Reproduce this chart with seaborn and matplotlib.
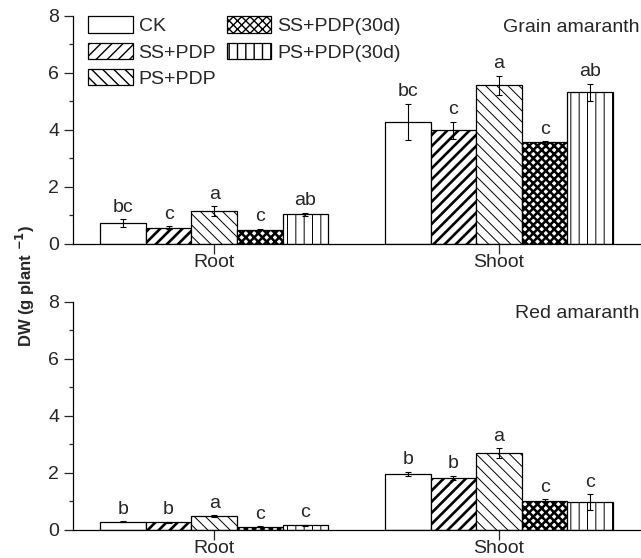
import numpy as np
import pandas as pd
import seaborn as sns
import matplotlib.pyplot as plt
from matplotlib.patches import Patch
from matplotlib.ticker import MultipleLocator

organs = ['Root', 'Shoot']
treatments = ['CK', 'SS+PDP', 'PS+PDP', 'SS+PDP(30d)', 'PS+PDP(30d)']

# Grain amaranth
grain_root = [0.73, 0.56, 1.15, 0.50, 1.03]
grain_root_err = [0.13, 0.05, 0.18, 0.03, 0.06]
grain_root_let = ['bc', 'c', 'a', 'c', 'ab']
grain_shoot = [4.29, 3.98, 5.57, 3.56, 5.32]
grain_shoot_err = [0.63, 0.30, 0.33, 0.05, 0.30]
grain_shoot_let = ['bc', 'c', 'a', 'c', 'ab']

# Red amaranth
red_root = [0.29, 0.27, 0.49, 0.12, 0.16]
red_root_err = [0.02, 0.02, 0.02, 0.01, 0.02]
red_root_let = ['b', 'b', 'a', 'c', 'c']
red_shoot = [1.97, 1.84, 2.70, 1.03, 0.98]
red_shoot_err = [0.08, 0.07, 0.17, 0.06, 0.27]
red_shoot_let = ['b', 'b', 'a', 'c', 'c']

# 填充样式: (hatch, hatch线宽)
styles = {
    'CK': ('', 0.8),
    'SS+PDP': ('///', 1.9),
    'PS+PDP': ('\\\\\\', 0.7),
    'SS+PDP(30d)': ('xxxx', 1.8),
    'PS+PDP(30d)': ('||', 0.7),
}

FS = 14

sns.set_style('ticks')
plt.rcParams['font.family'] = ['Liberation Sans', 'DejaVu Sans']
plt.rcParams['hatch.color'] = 'black'


def style_patch(p, t):
    h, lw = styles[t]
    p.set_hatch(h)
    if hasattr(p, 'set_hatch_linewidth'):
        p.set_hatch_linewidth(lw)


def panel(ax, root, root_err, root_let, shoot, shoot_err, shoot_let, title):
    df = pd.DataFrame({'organ': np.repeat(organs, len(treatments)),
                       'treat': treatments * 2,
                       'dw': root + shoot})
    sns.barplot(data=df, x='organ', y='dw', hue='treat', hue_order=treatments,
                palette={t: 'white' for t in treatments}, edgecolor='black',
                linewidth=0.9, width=0.8, saturation=1, ax=ax, legend=False)
    vals = [root, shoot]
    errs = [root_err, shoot_err]
    lets = [root_let, shoot_let]
    bar_conts = list(ax.containers)
    for i, cont in enumerate(bar_conts):
        t = treatments[i]
        for j, p in enumerate(cont.patches):
            style_patch(p, t)
            xc = p.get_x() + p.get_width() / 2
            h = vals[j][i]
            e = errs[j][i]
            ax.errorbar(xc, h, yerr=e, fmt='none', ecolor='black',
                        elinewidth=0.8, capsize=2.5, capthick=0.8, zorder=5)
            ax.text(xc, h + e + 0.12, lets[j][i], ha='center', va='bottom',
                    fontsize=FS)
    ax.set_ylim(0, 8)
    ax.set_xlim(-0.495, 1.498)
    ax.yaxis.set_major_locator(MultipleLocator(2))
    ax.yaxis.set_minor_locator(MultipleLocator(1))
    ax.tick_params(axis='y', which='major', length=6.5, width=0.9, labelsize=FS,
                   direction='out', pad=3.5)
    ax.tick_params(axis='y', which='minor', length=3, width=0.9, direction='out')
    ax.tick_params(axis='x', length=7, width=0.9, labelsize=FS, pad=0.5)
    ax.set_xlabel('')
    ax.set_ylabel('')
    for s in ['left', 'bottom']:
        ax.spines[s].set_linewidth(0.9)
        ax.spines[s].set_color('black')
    sns.despine(ax=ax)
    ax.text(0.998, 0.985, title, transform=ax.transAxes, ha='right', va='top',
            fontsize=FS)


fig = plt.figure(figsize=(6.41, 5.58), dpi=100)
ax1 = fig.add_axes([0.114, 0.563, 0.886, 0.4086])
ax2 = fig.add_axes([0.114, 0.0502, 0.886, 0.4086])

panel(ax1, grain_root, grain_root_err, grain_root_let,
      grain_shoot, grain_shoot_err, grain_shoot_let, 'Grain amaranth')
panel(ax2, red_root, red_root_err, red_root_let,
      red_shoot, red_shoot_err, red_shoot_let, 'Red amaranth')

handles = []
for t in treatments:
    hp = Patch(facecolor='white', edgecolor='black', linewidth=0.9, label=t)
    style_patch(hp, t)
    handles.append(hp)
ax1.legend(handles=handles, loc='upper left', bbox_to_anchor=(0.027, 0.998),
           ncol=2, frameon=False, fontsize=FS, handlelength=2.27,
           handleheight=0.91, labelspacing=0.39, handletextpad=0.31,
           columnspacing=0.57, borderaxespad=0, borderpad=0)

fig.text(0.039, 0.487, r'DW (g plant $^{\mathbf{-1}}$)', rotation=90,
         ha='center', va='center', fontsize=12, fontweight='bold')

fig.savefig('out.png', dpi=100)
